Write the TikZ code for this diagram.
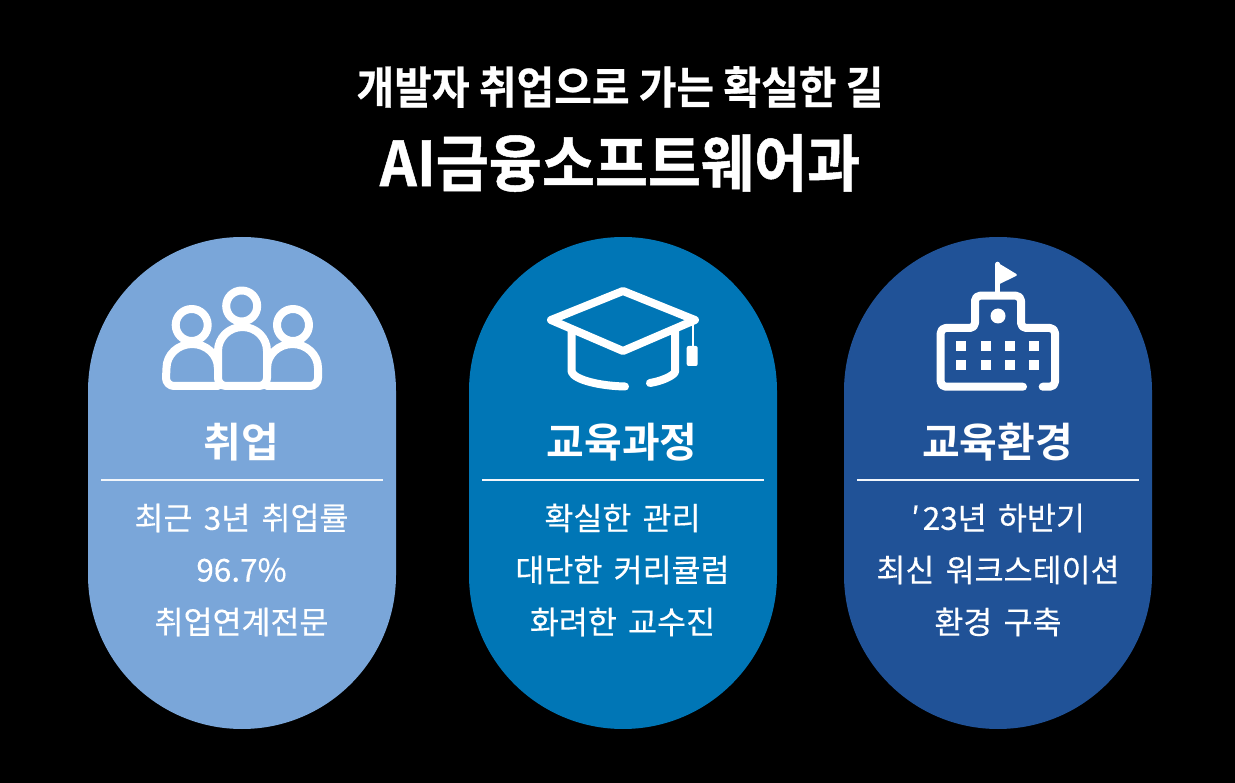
\documentclass[tikz,border=0pt]{standalone}
\usepackage{fontspec}
\setmainfont{Noto Sans CJK KR}
\newfontfamily\tfont[FakeStretch=0.92,FakeBold=0.6]{Noto Sans CJK KR Bold}
\newfontfamily\tbfont[FakeStretch=0.93,FakeBold=0.8]{Noto Sans CJK KR Bold}
\newfontfamily\hfont{Noto Sans CJK KR Bold}
\newfontfamily\bfont[FakeBold=0.35,WordSpace=1.6]{Noto Sans CJK KR}
\definecolor{pa}{HTML}{7AA6D9}
\definecolor{pb}{HTML}{0076B6}
\definecolor{pc}{HTML}{205297}
\tikzset{
  pill/.style={rounded corners=154pt},
  ico/.style={draw=white,line width=8pt,line cap=round,line join=round},
  head/.style={white,font=\hfont\fontsize{41}{41}\selectfont,anchor=center},
  body/.style={white,font=\bfont\fontsize{31.5}{31.5}\selectfont,anchor=center},
  rule/.style={draw=white!90!pa,line width=2pt}
}
\begin{document}
\begin{tikzpicture}[x=1pt,y=-1pt]
\useasboundingbox (0,0) rectangle (1235,783);
\fill[black] (0,0) rectangle (1235,783);
\node[white,font=\tfont\fontsize{44.5}{44.5}\selectfont] (t1) at (620,87) {개발자 취업으로 가는 확실한 길};
\node[white,font=\tbfont\fontsize{62}{62}\selectfont] (t2) at (620,163) {AI금융소프트웨어과};
% pills
\fill[pa,pill] (88,237) rectangle (396,729);
\fill[pb,pill] (469,237) rectangle (777,729);
\fill[pc,pill] (844,237) rectangle (1152,729);
% people icon
\draw[ico] (241.7,306) circle (15.5);
\draw[ico] (191.7,325) circle (16);
\draw[ico] (293,325) circle (16);
\draw[ico] (226,386) -- (259,386) arc (90:0:8) -- (267,351) arc (0:-180:24.5 and 24) -- (218,378) arc (180:90:8) -- cycle;
\draw[ico] (218,386) -- (174,386) arc (90:180:8) -- (166.5,368) arc (180:360:25.7 and 24);
\draw[ico] (267,386) -- (310,386) arc (90:0:8) -- (318,368) arc (0:-180:25.5 and 24);
% cap icon
\draw[ico] (623,291) -- (695,320) -- (623,351) -- (551,320) -- cycle;
\draw[ico] (571.7,331) -- (571.7,372) .. controls (575,380) and (600,386) .. (625,386.5);
\draw[ico] (675,331) -- (675,372) .. controls (673,376) and (662,381) .. (650,383);
\draw[white,line width=2.5pt] (693,322) -- (693,348);
\fill[white,rounded corners=2pt] (686.7,346) rectangle (697.7,366);
% school icon
\draw[white,line width=4.5pt,line cap=round] (997.7,264) -- (997.7,295);
\fill[white,rounded corners=1.5pt] (996.5,262) -- (1018,275) -- (996.5,285.5) -- cycle;
\draw[ico,rounded corners=5pt] (1023,386.7) -- (940.7,386.7) -- (940.7,328) -- (975,328) -- (975,295.7) -- (1021,295.7) -- (1021,328) -- (1055,328) -- (1055,386.7) -- (1042.7,386.7);
\fill[white] (998,316) circle (7.5);
\foreach \wx in {961,985.7,1010,1034.3}
  \foreach \wy in {345.7,365}
    \fill[white] (\wx-5,\wy-5) rectangle (\wx+5,\wy+5);
% texts
\node[head] (h1) at (241.5,442) {취업};
\node[head] (h2) at (622,442) {교육과정};
\node[head] (h3) at (997.5,442) {교육환경};
\coordinate (r1a) at (101,480); \coordinate (r1b) at (383,480);
\coordinate (r2a) at (482,480); \coordinate (r2b) at (764,480);
\coordinate (r3a) at (857,480); \coordinate (r3b) at (1139,480);
\draw[rule] (r1a) -- (r1b);
\draw[rule] (r2a) -- (r2b);
\draw[rule] (r3a) -- (r3b);
\node[body] (a1) at (241.5,518) {최근 3년 취업률};
\node[body] (a2) at (241.5,570) {96.7\%};
\node[body] (a3) at (241.5,622) {취업연계전문};
\node[body] (b1) at (622.5,518) {확실한 관리};
\node[body] (b2) at (622.5,570) {대단한 커리큘럼};
\node[body] (b3) at (622.5,622) {화려한 교수진};
\node[body] (c1) at (998,518) {′\hspace{3pt}23년 하반기};
\node[body] (c2) at (998,570) {최신 워크스테이션};
\node[body] (c3) at (998,622) {환경 구축};
\end{tikzpicture}
\end{document}
